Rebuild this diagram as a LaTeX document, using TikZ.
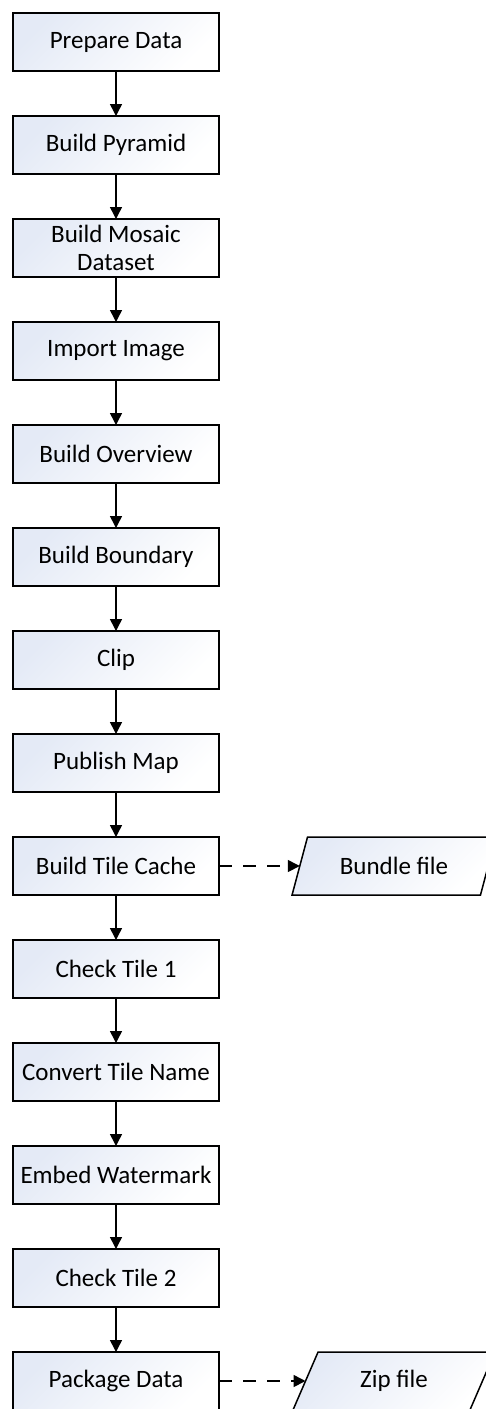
\documentclass[tikz,border=0pt]{standalone}
\usepackage{fontspec}
\setmainfont{Carlito}
\usepackage{tikz}
\usetikzlibrary{shapes.geometric,arrows.meta,positioning}
\usepackage{xcolor}
\definecolor{boxblue}{HTML}{E4EAF6}

\begin{document}
\begin{tikzpicture}[
        node distance=45pt,
        font=\fontsize{25}{29}\selectfont,
        stepbox/.style={draw, line width=1.5pt, outer sep=0pt, minimum width=206pt, minimum height=58pt,
            inner sep=2pt, align=center, top color=boxblue, bottom color=white, shading angle=45},
        iofile/.style={draw, line width=1.5pt, outer sep=0pt, trapezium, trapezium left angle=65,
            trapezium right angle=115, trapezium stretches=true, minimum width=204pt,
            minimum height=58pt, inner sep=2pt, top color=boxblue, bottom color=white, shading angle=45},
        flow/.style={line width=1.5pt, -{Triangle[length=12pt,width=12pt]}},
        dataflow/.style={flow, dash pattern=on 13pt off 11pt}
    ]
    \useasboundingbox (0,0) rectangle (486pt,-1409pt);

    \node[stepbox] (prepare) at (116pt,-42pt) {Prepare Data};
    \node[stepbox, below=of prepare] (pyramid) {Build Pyramid};
    \node[stepbox, below=of pyramid] (mosaic) {Build Mosaic\\[-1pt]Dataset};
    \node[stepbox, below=of mosaic] (import) {Import Image};
    \node[stepbox, below=of import] (overview) {Build Overview};
    \node[stepbox, below=of overview] (boundary) {Build Boundary};
    \node[stepbox, below=of boundary] (clip) {Clip};
    \node[stepbox, below=of clip] (publish) {Publish Map};
    \node[stepbox, below=of publish] (cache) {Build Tile Cache};
    \node[stepbox, below=of cache] (check1) {Check Tile 1};
    \node[stepbox, below=of check1] (convert) {Convert Tile Name};
    \node[stepbox, below=of convert] (watermark) {Embed Watermark};
    \node[stepbox, below=of watermark] (check2) {Check Tile 2};
    \node[stepbox, below=of check2] (package) {Package Data};

    \node[iofile, xshift=278pt] (bundle) at (cache) {Bundle file};
    \node[iofile, xshift=278pt] (zip) at (package) {Zip file};

    \foreach \a/\b in {prepare/pyramid, pyramid/mosaic, mosaic/import, import/overview,
        overview/boundary, boundary/clip, clip/publish, publish/cache, cache/check1,
        check1/convert, convert/watermark, watermark/check2, check2/package}
        \draw[flow] (\a) -- (\b);

    \draw[dataflow] (cache) -- (bundle.left side);
    \draw[dataflow] (package) -- (zip.left side);
\end{tikzpicture}
\end{document}
